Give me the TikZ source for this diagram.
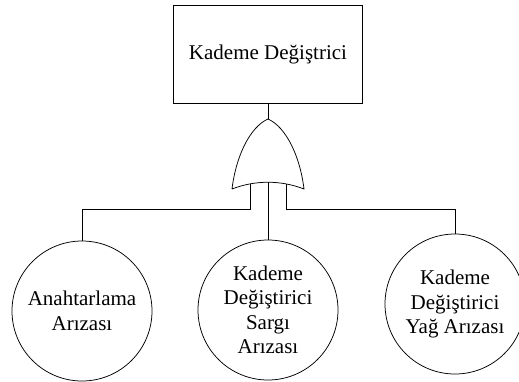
\documentclass[tikz,border=0pt]{standalone}
\usepackage{fontspec}
\setmainfont{Liberation Serif}
\begin{document}
\begin{tikzpicture}[x=1pt,y=-1pt,
  line width=0.75pt,
  lbl/.style={font=\fontsize{21}{24.5}\selectfont, align=center},
  event/.style={draw, rectangle, lbl, inner sep=0pt, minimum width=189pt, minimum height=98pt},
  basic/.style={draw, circle, lbl, inner sep=0pt, minimum size=140pt},
  wire/.style={draw, line width=0.75pt}]
\useasboundingbox (0,0) rectangle (519,381);

% top event
\node[event] (top) at (268,54) {Kademe Değiştrici};

% OR gate outline
\coordinate (apex) at (268,119);
\coordinate (bl) at (232,189);
\coordinate (br) at (304,189);
\draw (bl) .. controls (236,156) and (250,127) .. (apex)
      .. controls (286,127) and (300,156) .. (br)
      .. controls (281,180) and (255,180) .. (bl);

% gate inputs on the concave base
\coordinate (in1) at (250,184.3);
\coordinate (in2) at (268,182.3);
\coordinate (in3) at (286,184.3);
\coordinate (bus) at (0,209);

% basic events
\node[basic] (c1) at (82,311) {Anahtarlama\\Arızası};
\node[basic] (c2) at (268,310) {Kademe\\Değiştirici\\Sargı\\Arızası};
\node[basic] (c3) at (455,304) {Kademe\\Değiştirici\\Yağ Arızası};

% connectors
\draw[wire] (top.south) -- (apex);
\draw[wire] (in1) -- (in1 |- bus) -| (c1.north);
\draw[wire] (in2) -- (c2.north);
\draw[wire] (in3) -- (in3 |- bus) -| (c3.north);
\end{tikzpicture}
\end{document}
